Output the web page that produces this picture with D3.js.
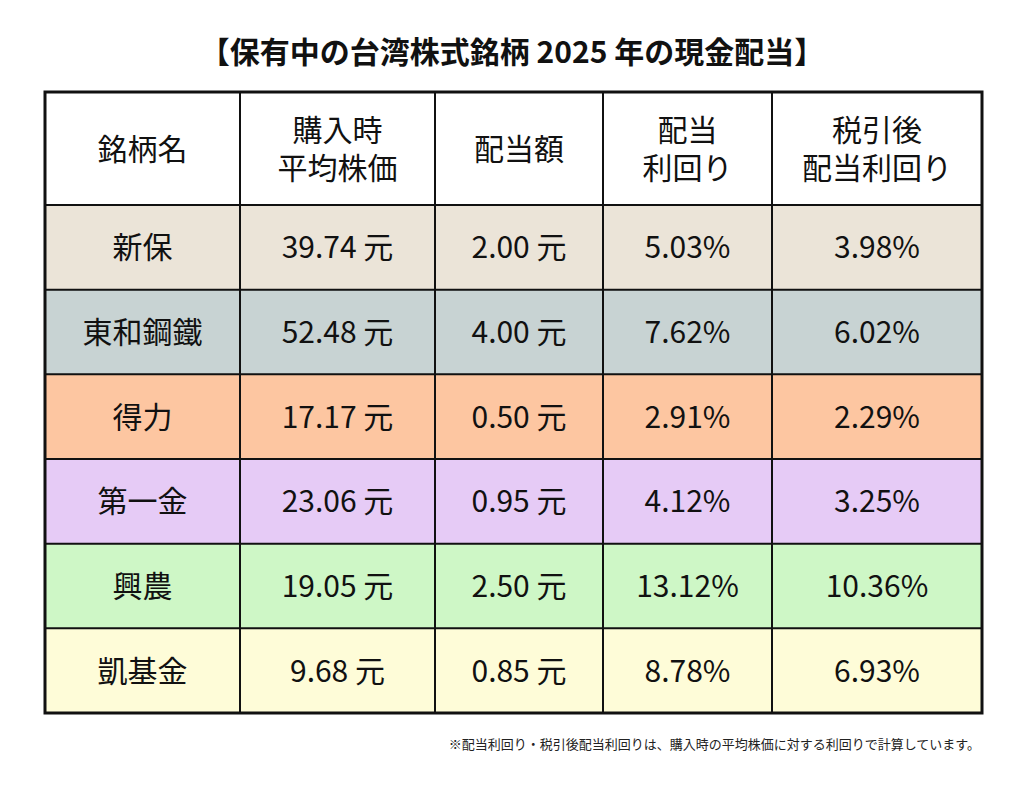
<!DOCTYPE html>
<html><head><meta charset="utf-8">
<script src="https://cdn.jsdelivr.net/npm/d3@7"></script>
<style>body{margin:0;background:#fff}text{font-family:"Noto Sans CJK JP","Noto Sans",sans-serif}</style>
</head><body><div id="chart"></div>
<script>
const title = "【保有中の台湾株式銘柄 2025 年の現金配当】";
const headers = [["銘柄名"], ["購入時", "平均株価"], ["配当額"], ["配当", "利回り"], ["税引後", "配当利回り"]];
const names = ["新保", "東和鋼鐵", "得力", "第一金", "興農", "凱基金"];
const prices = ["39.74 元", "52.48 元", "17.17 元", "23.06 元", "19.05 元", "9.68 元"];
const dividends = ["2.00 元", "4.00 元", "0.50 元", "0.95 元", "2.50 元", "0.85 元"];
const yields = ["5.03%", "7.62%", "2.91%", "4.12%", "13.12%", "8.78%"];
const afterTax = ["3.98%", "6.02%", "2.29%", "3.25%", "10.36%", "6.93%"];
const rowColors = ["#ebe4d8", "#c8d3d3", "#fdc6a1", "#e6cbf6", "#cef7c6", "#fefcd8"];
const note = "※配当利回り・税引後配当利回りは、購入時の平均株価に対する利回りで計算しています。";

const W = 1024, H = 785;
const tLeft = 45, tRight = 982, tTop = 92, headH = 113, tBottom = 713;
const colW = [195, 195, 168, 169, 210];
const colEdges = Array.from(d3.cumsum([tLeft, ...colW]));

const svg = d3.select("#chart").append("svg").attr("width", W).attr("height", H);

svg.append("text").attr("x", W / 2).attr("y", 63).attr("text-anchor", "middle")
  .attr("font-size", 30).attr("font-weight", "bold").attr("fill", "#111").text(title);

const y = d3.scaleBand().domain(names).range([tTop + headH, tBottom]);
const cx = i => (colEdges[i] + colEdges[i + 1]) / 2;

// header
svg.append("rect").attr("x", tLeft).attr("y", tTop).attr("width", tRight - tLeft).attr("height", headH).attr("fill", "#fff");
headers.forEach((h, i) => {
  const t = svg.append("text").attr("text-anchor", "middle").attr("font-size", 30).attr("fill", "#111");
  const y0 = tTop + headH / 2 - (h.length - 1) * 19 + 11;
  h.forEach((line, j) => t.append("tspan").attr("x", cx(i)).attr("y", y0 + j * 38).text(line));
});

// rows
const rows = names.map((n, i) => [n, prices[i], dividends[i], yields[i], afterTax[i]]);
rows.forEach((r, i) => {
  const ry = y(names[i]);
  svg.append("rect").attr("x", tLeft).attr("y", ry).attr("width", tRight - tLeft)
    .attr("height", y.bandwidth()).attr("fill", rowColors[i]);
  r.forEach((v, j) => svg.append("text").attr("x", cx(j)).attr("y", ry + y.bandwidth() / 2 + 11)
    .attr("text-anchor", "middle").attr("font-size", 30).attr("fill", "#111").text(v));
});

// grid lines
const g = svg.append("g").attr("stroke", "#111");
[tTop + headH, ...names.slice(1).map(n => y(n))].forEach(yy =>
  g.append("line").attr("x1", tLeft).attr("x2", tRight).attr("y1", yy).attr("y2", yy).attr("stroke-width", 2));
colEdges.slice(1, -1).forEach(xx =>
  g.append("line").attr("x1", xx).attr("x2", xx).attr("y1", tTop).attr("y2", tBottom).attr("stroke-width", 2));
g.append("rect").attr("x", tLeft).attr("y", tTop).attr("width", tRight - tLeft).attr("height", tBottom - tTop)
  .attr("fill", "none").attr("stroke-width", 3);

svg.append("text").attr("x", 980).attr("y", 749).attr("text-anchor", "end")
  .attr("font-size", 13).attr("fill", "#222").text(note);
</script></body></html>
